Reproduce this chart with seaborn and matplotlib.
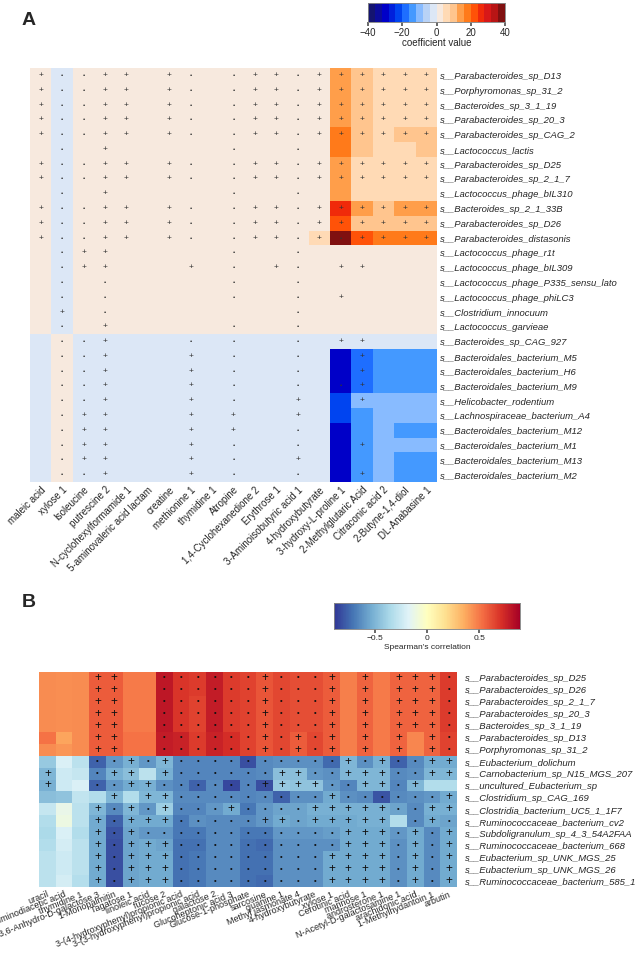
import numpy as np
import pandas as pd
import seaborn as sns
import matplotlib.pyplot as plt
from matplotlib.colors import ListedColormap

sns.set_theme(style='white')
plt.rcParams['font.family'] = ['Liberation Sans', 'DejaVu Sans']

# ---------------- Panel A data ----------------
metabolites_a = ['maleic acid', 'xylose 1', 'Isoleucine', 'putrescine 2', 'N-cyclohexylformamide 1',
                 '5-aminovaleric acid lactam', 'creatine', 'methionine 1', 'thymidine 1', 'Atropine',
                 '1,4-Cyclohexanedione 2', 'Erythrose 1', '3-Aminoisobutyric acid 1', '4-hydroxybutyrate',
                 '3-hydroxy-L-proline 1', '2-Methylglutaric Acid', 'Citraconic acid 2', '2-Butyne-1,4-diol',
                 'DL-Anabasine 1']
species_a = ['s__Parabacteroides_sp_D13', 's__Porphyromonas_sp_31_2', 's__Bacteroides_sp_3_1_19',
             's__Parabacteroides_sp_20_3', 's__Parabacteroides_sp_CAG_2', 's__Lactococcus_lactis',
             's__Parabacteroides_sp_D25', 's__Parabacteroides_sp_2_1_7', 's__Lactococcus_phage_bIL310',
             's__Bacteroides_sp_2_1_33B', 's__Parabacteroides_sp_D26', 's__Parabacteroides_distasonis',
             's__Lactococcus_phage_r1t', 's__Lactococcus_phage_bIL309', 's__Lactococcus_phage_P335_sensu_lato',
             's__Lactococcus_phage_phiLC3', 's__Clostridium_innocuum', 's__Lactococcus_garvieae',
             's__Bacteroides_sp_CAG_927', 's__Bacteroidales_bacterium_M5', 's__Bacteroidales_bacterium_H6',
             's__Bacteroidales_bacterium_M9', 's__Helicobacter_rodentium', 's__Lachnospiraceae_bacterium_A4',
             's__Bacteroidales_bacterium_M12', 's__Bacteroidales_bacterium_M1', 's__Bacteroidales_bacterium_M13',
             's__Bacteroidales_bacterium_M2']
coef_a = [
    [2, -2, 2, 2, 2, 2, 2, 2, 2, 2, 2, 2, 2, 2, 14, 10, 6, 6, 6],
    [2, -2, 2, 2, 2, 2, 2, 2, 2, 2, 2, 2, 2, 2, 14, 10, 6, 6, 6],
    [2, -2, 2, 2, 2, 2, 2, 2, 2, 2, 2, 2, 2, 2, 14, 10, 6, 6, 6],
    [2, -2, 2, 2, 2, 2, 2, 2, 2, 2, 2, 2, 2, 2, 14, 10, 6, 6, 6],
    [2, -2, 2, 2, 2, 2, 2, 2, 2, 2, 2, 2, 2, 2, 18, 10, 6, 10, 10],
    [2, -2, 2, 2, 2, 2, 2, 2, 2, 2, 2, 2, 2, 2, 18, 10, 6, 6, 10],
    [2, -2, 2, 2, 2, 2, 2, 2, 2, 2, 2, 2, 2, 2, 14, 6, 6, 6, 6],
    [2, -2, 2, 2, 2, 2, 2, 2, 2, 2, 2, 2, 2, 2, 14, 6, 6, 6, 6],
    [2, -2, 2, 2, 2, 2, 2, 2, 2, 2, 2, 2, 2, 2, 14, 6, 6, 6, 6],
    [2, -2, 2, 2, 2, 2, 2, 2, 2, 2, 2, 2, 2, 2, 26, 14, 10, 14, 14],
    [2, -2, 2, 2, 2, 2, 2, 2, 2, 2, 2, 2, 2, 2, 22, 10, 10, 10, 10],
    [2, -2, 2, 2, 2, 2, 2, 2, 2, 2, 2, 2, 2, 6, 38, 22, 18, 18, 18],
    [2, -2, 2, 2, 2, 2, 2, 2, 2, 2, 2, 2, 2, 2, 2, 2, 2, 2, 2],
    [2, -2, 2, 2, 2, 2, 2, 2, 2, 2, 2, 2, 2, 2, 2, 2, 2, 2, 2],
    [2, -2, 2, 2, 2, 2, 2, 2, 2, 2, 2, 2, 2, 2, 2, 2, 2, 2, 2],
    [2, -2, 2, 2, 2, 2, 2, 2, 2, 2, 2, 2, 2, 2, 2, 2, 2, 2, 2],
    [2, -2, 2, 2, 2, 2, 2, 2, 2, 2, 2, 2, 2, 2, 2, 2, 2, 2, 2],
    [2, -2, 2, 2, 2, 2, 2, 2, 2, 2, 2, 2, 2, 2, 2, 2, 2, 2, 2],
    [-2, 2, -2, -2, -2, -2, -2, -2, -2, -2, -2, -2, -2, -2, -2, -2, -2, -2, -2],
    [-2, 2, -2, -2, -2, -2, -2, -2, -2, -2, -2, -2, -2, -2, -30, -18, -14, -14, -14],
    [-2, 2, -2, -2, -2, -2, -2, -2, -2, -2, -2, -2, -2, -2, -30, -18, -14, -14, -14],
    [-2, 2, -2, -2, -2, -2, -2, -2, -2, -2, -2, -2, -2, -2, -30, -18, -14, -14, -14],
    [-2, 2, -2, -2, -2, -2, -2, -2, -2, -2, -2, -2, -2, -2, -22, -10, -10, -10, -10],
    [-2, 2, -2, -2, -2, -2, -2, -2, -2, -2, -2, -2, -2, -2, -22, -14, -10, -10, -10],
    [-2, 2, -2, -2, -2, -2, -2, -2, -2, -2, -2, -2, -2, -2, -30, -14, -10, -14, -14],
    [-2, 2, -2, -2, -2, -2, -2, -2, -2, -2, -2, -2, -2, -2, -30, -14, -10, -10, -10],
    [-2, 2, -2, -2, -2, -2, -2, -2, -2, -2, -2, -2, -2, -2, -30, -14, -10, -14, -14],
    [-2, 2, -2, -2, -2, -2, -2, -2, -2, -2, -2, -2, -2, -2, -30, -14, -10, -14, -14],
]
# '+' = plus mark, '.' = dot mark, ' ' = none
sig_a = [
    "+..++ +. .++.++++++",
    "+..++ +. .++.++++++",
    "+..++ +. .++.++++++",
    "+..++ +. .++.++++++",
    "+..++ +. .++.++++++",
    " . +     .  .      ",
    "+..++ +. .++.++++++",
    "+..++ +. .++.++++++",
    " . +     .  .      ",
    "+..++ +. .++.++++++",
    "+..++ +. .++.++++++",
    "+..++ +. .++.+.++++",
    " .++     .  .      ",
    " .++   + . +. ++   ",
    " . .     .  .      ",
    " . .     .  . +    ",
    " + .        .      ",
    " . +     .  .      ",
    " ..+   . .  . ++   ",
    " ..+   + .  .  +   ",
    " ..+   + .  .  +   ",
    " ..+   + .  . .+   ",
    " ..+   + .  +  +   ",
    " .++   + +  +      ",
    " .++   + +  .      ",
    " .++   + .  .  +   ",
    " .++   + .  +      ",
    " ..+   + .  .  +   ",
]

# ---------------- Panel B data ----------------
metabolites_b = ['uracil', 'iminodiacetic acid', 'thymidine 1', '3,6-Anhydro-D-galactose 3', '1-Monopalmitin',
                 'Tagatose 1', 'linoleic acid', 'fucose 2', '3-(4-hydroxyphenyl)propionic acid',
                 '3-(3-hydroxyphenyl)propionic acid', 'galactose 2', 'Glucoheptonic acid 3',
                 'Glucose-1-phosphate', 'sarcosine', 'guanine 1', 'Methyl jasmonate 4', '4-hydroxybutyrate',
                 'xylose 1', 'Cerotinic acid', 'mannose 1', 'androsterone 1', 'N-Acetyl-D-galactosamine 1',
                 'arachidonic acid', '1-Methylhydantoin 1', 'arbutin']
species_b = ['s__Parabacteroides_sp_D25', 's__Parabacteroides_sp_D26', 's__Parabacteroides_sp_2_1_7',
             's__Parabacteroides_sp_20_3', 's__Bacteroides_sp_3_1_19', 's__Parabacteroides_sp_D13',
             's__Porphyromonas_sp_31_2', 's__Eubacterium_dolichum', 's__Carnobacterium_sp_N15_MGS_207',
             's__uncultured_Eubacterium_sp', 's__Clostridium_sp_CAG_169', 's__Clostridia_bacterium_UC5_1_1F7',
             's__Ruminococcaceae_bacterium_cv2', 's__Subdoligranulum_sp_4_3_54A2FAA',
             's__Ruminococcaceae_bacterium_668', 's__Eubacterium_sp_UNK_MGS_25', 's__Eubacterium_sp_UNK_MGS_26',
             's__Ruminococcaceae_bacterium_585_1']
rho_b = [
    [0.45, 0.44, 0.45, 0.58, 0.58, 0.50, 0.50, 0.80, 0.70, 0.68, 0.78, 0.68, 0.66, 0.60, 0.64, 0.62, 0.62, 0.58, 0.48, 0.56, 0.50, 0.56, 0.56, 0.56, 0.68],
    [0.45, 0.44, 0.45, 0.58, 0.58, 0.50, 0.50, 0.80, 0.70, 0.68, 0.78, 0.68, 0.66, 0.60, 0.64, 0.62, 0.62, 0.58, 0.48, 0.56, 0.50, 0.56, 0.56, 0.56, 0.68],
    [0.45, 0.44, 0.45, 0.58, 0.58, 0.50, 0.50, 0.80, 0.70, 0.66, 0.78, 0.68, 0.66, 0.60, 0.64, 0.62, 0.62, 0.58, 0.48, 0.56, 0.50, 0.56, 0.56, 0.56, 0.68],
    [0.45, 0.44, 0.45, 0.58, 0.58, 0.50, 0.50, 0.80, 0.70, 0.66, 0.78, 0.68, 0.66, 0.60, 0.64, 0.62, 0.62, 0.58, 0.48, 0.56, 0.50, 0.56, 0.56, 0.56, 0.68],
    [0.45, 0.44, 0.45, 0.58, 0.58, 0.50, 0.50, 0.80, 0.70, 0.66, 0.78, 0.68, 0.66, 0.60, 0.64, 0.62, 0.62, 0.58, 0.48, 0.56, 0.50, 0.56, 0.56, 0.56, 0.68],
    [0.52, 0.38, 0.45, 0.58, 0.58, 0.52, 0.52, 0.78, 0.76, 0.68, 0.76, 0.72, 0.66, 0.60, 0.64, 0.58, 0.64, 0.58, 0.48, 0.56, 0.50, 0.56, 0.46, 0.56, 0.66],
    [0.45, 0.42, 0.45, 0.58, 0.58, 0.52, 0.52, 0.78, 0.76, 0.68, 0.76, 0.72, 0.66, 0.60, 0.64, 0.58, 0.64, 0.58, 0.48, 0.56, 0.50, 0.56, 0.46, 0.56, 0.66],
    [-0.42, -0.20, -0.30, -0.76, -0.60, -0.52, -0.60, -0.50, -0.66, -0.66, -0.66, -0.66, -0.82, -0.64, -0.62, -0.62, -0.62, -0.74, -0.50, -0.62, -0.52, -0.76, -0.64, -0.54, -0.54],
    [-0.50, -0.24, -0.27, -0.66, -0.52, -0.46, -0.30, -0.52, -0.66, -0.66, -0.66, -0.66, -0.66, -0.64, -0.46, -0.46, -0.60, -0.62, -0.50, -0.50, -0.50, -0.64, -0.62, -0.50, -0.50],
    [-0.52, -0.24, -0.20, -0.76, -0.60, -0.54, -0.52, -0.62, -0.66, -0.76, -0.64, -0.84, -0.66, -0.82, -0.42, -0.44, -0.44, -0.60, -0.66, -0.50, -0.50, -0.66, -0.50, -0.33, -0.33],
    [-0.46, -0.44, -0.28, -0.33, -0.50, -0.33, -0.50, -0.50, -0.64, -0.64, -0.64, -0.64, -0.66, -0.64, -0.76, -0.62, -0.62, -0.54, -0.62, -0.64, -0.80, -0.64, -0.62, -0.60, -0.54],
    [-0.27, -0.13, -0.30, -0.50, -0.64, -0.50, -0.60, -0.40, -0.66, -0.66, -0.60, -0.54, -0.70, -0.60, -0.56, -0.56, -0.52, -0.52, -0.52, -0.52, -0.52, -0.56, -0.64, -0.52, -0.52],
    [-0.33, -0.11, -0.30, -0.54, -0.76, -0.54, -0.54, -0.54, -0.70, -0.62, -0.64, -0.64, -0.64, -0.60, -0.54, -0.56, -0.54, -0.54, -0.54, -0.52, -0.52, -0.33, -0.64, -0.54, -0.56],
    [-0.35, -0.20, -0.33, -0.54, -0.80, -0.56, -0.60, -0.60, -0.70, -0.70, -0.64, -0.64, -0.70, -0.70, -0.60, -0.60, -0.60, -0.58, -0.54, -0.54, -0.54, -0.60, -0.54, -0.64, -0.54],
    [-0.33, -0.22, -0.30, -0.54, -0.82, -0.56, -0.54, -0.56, -0.72, -0.72, -0.64, -0.64, -0.72, -0.74, -0.62, -0.62, -0.62, -0.62, -0.54, -0.54, -0.54, -0.62, -0.54, -0.64, -0.54],
    [-0.30, -0.24, -0.30, -0.54, -0.82, -0.56, -0.54, -0.54, -0.72, -0.70, -0.64, -0.64, -0.72, -0.72, -0.62, -0.62, -0.62, -0.54, -0.54, -0.54, -0.54, -0.62, -0.54, -0.64, -0.54],
    [-0.30, -0.24, -0.30, -0.54, -0.82, -0.56, -0.54, -0.54, -0.72, -0.70, -0.64, -0.64, -0.72, -0.72, -0.62, -0.62, -0.62, -0.54, -0.54, -0.54, -0.54, -0.62, -0.54, -0.64, -0.54],
    [-0.30, -0.22, -0.32, -0.54, -0.82, -0.56, -0.54, -0.54, -0.72, -0.70, -0.64, -0.64, -0.72, -0.74, -0.62, -0.62, -0.62, -0.54, -0.54, -0.54, -0.54, -0.62, -0.54, -0.64, -0.54],
]
sig_b = [
    "   ++  ......+...+ + +++.",
    "   ++  ......+...+ + +++.",
    "   ++  ......+...+ + +++.",
    "   ++  ......+...+ + +++.",
    "   ++  ......+...+ + +++.",
    "   ++  ......+.+.+ + + +.",
    "   ++  ......+.+.+ + + +.",
    "   ..+.+..........+.+..++",
    "+  .++ +......++..+++..++",
    "+  ..++......++++..++.+  ",
    "    + ++.........+......+",
    "   +.+.+...+....+++++..++",
    "   +.+++.....++.+++++ .+.",
    "   +.+............+++.+.+",
    "   +.+++..........+++.+.+",
    "   +.+++.........++++.+.+",
    "   +.+++.........++++.+.+",
    "   +.+++.........++++.+.+",
]

# discrete coefficient palette, 20 bins of 4 units from -40 to 40
coef_colors = ['#141470', '#0c0c9c', '#0000c8', '#0020dc', '#0044f0', '#1e6eff', '#4499ff', '#88bbff',
               '#b8d2f6', '#dce7f6', '#f7e9de', '#ffdab5', '#ffc58e', '#ff9e4a', '#ff7a1a', '#ff5208',
               '#f02a0a', '#d81818', '#b81515', '#801010']

mark_map = {'+': '+', '.': '\u2022', ' ': ''}

df_a = pd.DataFrame(coef_a, index=species_a, columns=metabolites_a)
ann_a = np.array([[mark_map[c] for c in row] for row in sig_a])
df_b = pd.DataFrame(rho_b, index=species_b, columns=metabolites_b)
ann_b = np.array([[mark_map[c] for c in row] for row in sig_b])

fig = plt.figure(figsize=(6.43, 9.57), dpi=100)

# ---------------- Panel A ----------------
ax_a = fig.add_axes([0.0467, 0.4963, 0.633, 0.4326])
cax_a = fig.add_axes([0.5723, 0.977, 0.2131, 0.0199])
sns.heatmap(df_a, ax=ax_a, cbar_ax=cax_a, cmap=ListedColormap(coef_colors), vmin=-40, vmax=40,
            annot=ann_a, fmt='', annot_kws={'color': '#333333', 'fontsize': 6},
            xticklabels=True, yticklabels=True,
            cbar_kws={'orientation': 'horizontal', 'ticks': [-40, -20, 0, 20, 40]})
for t in ax_a.texts:
    if t.get_text() == '\u2022':
        t.set_fontsize(4.5)
ax_a.yaxis.tick_right()
ax_a.set_yticklabels(species_a, rotation=0, fontsize=6.8, style='italic')
ax_a.set_xticklabels(metabolites_a, rotation=45, ha='right', rotation_mode='anchor', fontsize=7)
ax_a.tick_params(length=0, pad=2)
ax_a.set_xlabel('')
ax_a.set_ylabel('')
cax_a.tick_params(labelsize=7, length=3, color='#555555', pad=1)
cax_a.set_xlabel('coefficient value', fontsize=7, labelpad=0)
for s in cax_a.spines.values():
    s.set_visible(True)
    s.set_linewidth(0.5)
    s.set_color('#888888')

# ---------------- Panel B ----------------
ax_b = fig.add_axes([0.0607, 0.0731, 0.650, 0.2247])
cax_b = fig.add_axes([0.5194, 0.3427, 0.2893, 0.0272])
sns.heatmap(df_b, ax=ax_b, cbar_ax=cax_b, cmap='RdYlBu_r', vmin=-0.89, vmax=0.89,
            annot=ann_b, fmt='', annot_kws={'color': '#111111', 'fontsize': 8.5},
            xticklabels=True, yticklabels=True,
            cbar_kws={'orientation': 'horizontal', 'ticks': [-0.5, 0, 0.5]})
for t in ax_b.texts:
    if t.get_text() == '\u2022':
        t.set_fontsize(5.5)
ax_b.yaxis.tick_right()
ax_b.set_yticklabels(species_b, rotation=0, fontsize=6.8, style='italic')
ax_b.set_xticklabels(metabolites_b, rotation=22, ha='right', rotation_mode='anchor', fontsize=6.5)
ax_b.tick_params(length=0, pad=2)
ax_b.tick_params(axis='y', pad=6)
ax_b.set_xlabel('')
ax_b.set_ylabel('')
cax_b.set_xticklabels(['\u22120.5', '0', '0.5'])
cax_b.tick_params(labelsize=6, length=3, color='#555555', pad=1)
cax_b.set_xlabel("Spearman's correlation", fontsize=6, labelpad=2)
for s in cax_b.spines.values():
    s.set_visible(True)
    s.set_linewidth(0.5)
    s.set_color('#888888')

fig.text(0.034, 0.979, 'A', fontsize=14, fontweight='bold', va='center', ha='left')
fig.text(0.034, 0.370, 'B', fontsize=14, fontweight='bold', va='center', ha='left')

fig.savefig('out.png', dpi=100)
